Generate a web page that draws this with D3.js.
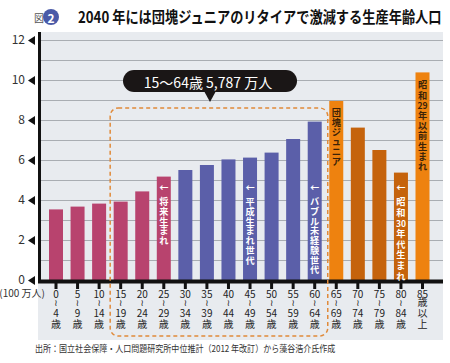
<!DOCTYPE html>
<html>
<head>
<meta charset="utf-8">
<script src="https://cdn.jsdelivr.net/npm/d3@7"></script>
<style>
  body { margin: 0; background: #fff; }
  svg text { font-family: "Noto Sans CJK JP", "Noto Sans", sans-serif; }
</style>
</head>
<body>
<div id="chart"></div>
<script>
// data
const categories = ["0-4","5-9","10-14","15-19","20-24","25-29","30-34","35-39","40-44",
                    "45-49","50-54","55-59","60-64","65-69","70-74","75-79","80-84","85+"];
const tickLabels = [
  ["0","≀","4","歳"],["5","≀","9","歳"],["10","≀","14","歳"],["15","≀","19","歳"],
  ["20","≀","24","歳"],["25","≀","29","歳"],["30","≀","34","歳"],["35","≀","39","歳"],
  ["40","≀","44","歳"],["45","≀","49","歳"],["50","≀","54","歳"],["55","≀","59","歳"],
  ["60","≀","64","歳"],["65","≀","69","歳"],["70","≀","74","歳"],["75","≀","79","歳"],
  ["80","≀","84","歳"],["85","歳","以","上"]
];
const population = [3.53, 3.67, 3.82, 3.92, 4.43, 5.17, 5.50, 5.75, 6.03,
                     6.12, 6.37, 7.05, 7.92, 8.95, 7.62, 6.50, 5.37, 10.38];
const groups = ["young","young","young","young","young","young","work","work","work",
                "work","work","work","work","junior","old","old","old","oldest"];
const yTicks = [0, 2, 4, 6, 8, 10, 12];
const notes = [
  { cat: "25-29", tokens: ["←","将","来","生","ま","れ"], dark: false },
  { cat: "45-49", tokens: ["←","平","成","生","ま","れ","世","代"], dark: false },
  { cat: "60-64", tokens: ["←","バ","ブ","ル","未","経","験","世","代"], dark: false },
  { cat: "65-69", tokens: ["団","塊","ジ","ュ","ニ","ア"], dark: true },
  { cat: "80-84", tokens: ["←","昭","和","30","年","代","生","ま","れ"], dark: false },
  { cat: "85+", tokens: ["昭","和","29","年","以","前","生","ま","れ"], dark: true }
];
const calloutText = "15〜64歳 5,787 万人";
const titleText = "2040 年には団塊ジュニアのリタイアで激減する生産年齢人口";
const sourceText = "出所：国立社会保障・人口問題研究所中位推計（2012 年改訂）から藻谷浩介氏作成";

const colors = { young: "#b8436e", work: "#5b5fa9", junior: "#ee820f", old: "#c5630c", oldest: "#ee820f" };

const W = 450, H = 363;
const svg = d3.select("#chart").append("svg").attr("width", W).attr("height", H);

const panel = { left: 38, right: 443, top: 32, bottom: 340 };
const y = d3.scaleLinear().domain([0, 12]).range([280, 40]);
const x = d3.scalePoint().domain(categories).range([56, 422.5]);
const barW = 14;

// background panel
svg.append("rect")
  .attr("x", panel.left).attr("y", panel.top)
  .attr("width", panel.right - panel.left).attr("height", panel.bottom - panel.top)
  .attr("fill", "#e8ebef");

// gridlines every 1
svg.append("g")
  .attr("transform", `translate(${panel.left},0)`)
  .call(d3.axisLeft(y).tickValues(d3.range(1, 13)).tickSize(-(panel.right - panel.left)).tickFormat(""))
  .call(g => g.select(".domain").remove())
  .call(g => g.selectAll("line").attr("stroke", "#a9adb2").attr("stroke-width", 1));

// bars
svg.append("g").selectAll("rect")
  .data(categories)
  .join("rect")
  .attr("x", d => x(d) - barW / 2)
  .attr("width", barW)
  .attr("y", (d, i) => y(population[i]))
  .attr("height", (d, i) => y(0) - y(population[i]))
  .attr("fill", (d, i) => colors[groups[i]]);

// axes lines
svg.append("line").attr("x1", panel.left).attr("x2", panel.right)
  .attr("y1", 281.5).attr("y2", 281.5).attr("stroke", "#111").attr("stroke-width", 4);
svg.append("line").attr("x1", 39.5).attr("x2", 39.5)
  .attr("y1", panel.top).attr("y2", 283).attr("stroke", "#111").attr("stroke-width", 3);

// y labels with arrows
const yAxis = svg.append("g").attr("transform", "translate(37,0)")
  .call(d3.axisLeft(y).tickValues(yTicks).tickSize(0).tickPadding(12))
  .call(g => g.select(".domain").remove());
yAxis.selectAll("text").attr("font-size", 12).attr("fill", "#333")
  .attr("font-family", "'Noto Sans', sans-serif");
yAxis.selectAll(".tick").append("path")
  .attr("d", "M-9,0 L-2,-4.5 L-2,4.5 Z").attr("fill", "#111");

svg.append("text").attr("x", 45).attr("y", 297).attr("text-anchor", "end")
  .attr("font-size", 10).attr("fill", "#333").text("(100 万人)");

// x ticks and stacked labels (one text per label, one tspan per line)
const xt = svg.append("g").selectAll("g")
  .data(categories)
  .join("g")
  .attr("transform", d => `translate(${x(d)},0)`);
xt.append("rect").attr("x", -1.5).attr("y", 283).attr("width", 3).attr("height", 6).attr("fill", "#111");
const lineY = [297.5, 305.5, 316.5, 328];
xt.append("text")
  .attr("text-anchor", "middle").attr("font-size", 10).attr("fill", "#222")
  .each(function(d, i) {
    const t = d3.select(this);
    tickLabels[i].forEach((s, j) => {
      t.append("tspan").attr("x", 0).attr("y", lineY[j])
        .attr("font-size", s === "≀" ? 9 : 10)
        .attr("font-family", s === "≀" ? "'DejaVu Sans', sans-serif" : null)
        .text(s);
    });
  });

// vertical notes inside bars
notes.forEach(n => {
  const cx = x(n.cat);
  let yy = (n.tokens[0] === "←" ? 188 : (n.cat === "85+" ? 85 : 113)) + 3.3;
  const step = n.cat === "80-84" ? 10.6 : (n.cat === "85+" ? 10.2 : 9.7);
  const t = svg.append("text")
    .attr("text-anchor", "middle").attr("font-weight", "bold")
    .attr("fill", n.dark ? "#3b2208" : "#fff");
  n.tokens.forEach(s => {
    t.append("tspan").attr("x", cx).attr("y", yy)
      .attr("font-size", s.length === 2 ? 8.5 : 9.2)
      .text(s);
    yy += (s === "←") ? 14 : step;
  });
});

// dashed orange frame around 15-64
svg.append("rect")
  .attr("x", x("15-19") - 10.5).attr("y", 108)
  .attr("width", (x("65-69") - 8.5) - (x("15-19") - 10.5)).attr("height", 336 - 108)
  .attr("rx", 8)
  .attr("fill", "none").attr("stroke", "#e08a3a").attr("stroke-width", 1.5)
  .attr("stroke-dasharray", "4,3");

// callout
const cb = svg.append("g");
cb.append("rect").attr("x", 123).attr("y", 70).attr("width", 174).attr("height", 22)
  .attr("rx", 11).attr("fill", "#1a1616");
cb.append("path").attr("d", "M204,91 L210,102 L216,91 Z").attr("fill", "#1a1616");
cb.append("text").attr("x", 208).attr("y", 81.5)
  .attr("text-anchor", "middle").attr("dominant-baseline", "central")
  .attr("font-size", 14).attr("fill", "#fff").text(calloutText);

// title
svg.append("text").attr("x", 39).attr("y", 17).attr("text-anchor", "middle")
  .attr("dominant-baseline", "central").attr("font-size", 10).attr("fill", "#555").text("図");
svg.append("circle").attr("cx", 51).attr("cy", 17).attr("r", 8).attr("fill", "#4a5aa8");
svg.append("text").attr("x", 51).attr("y", 17.5).attr("text-anchor", "middle")
  .attr("dominant-baseline", "central").attr("font-size", 12).attr("font-weight", "bold")
  .attr("fill", "#fff").text("2");

// squeeze a text horizontally to a target width
function fitText(sel, x0, y0, width) {
  const len = sel.node().getComputedTextLength();
  sel.attr("transform", `translate(${x0},${y0}) scale(${Math.min(1, width / len)},1)`);
}
const title = svg.append("text").attr("font-size", 15.5).attr("font-weight", "bold")
  .attr("fill", "#111").text(titleText);
fitText(title, 78, 23, 364);

// source
const src = svg.append("text").attr("font-size", 9.5).attr("fill", "#333").text(sourceText);
fitText(src, 35, 352, 301);
</script>
</body>
</html>
